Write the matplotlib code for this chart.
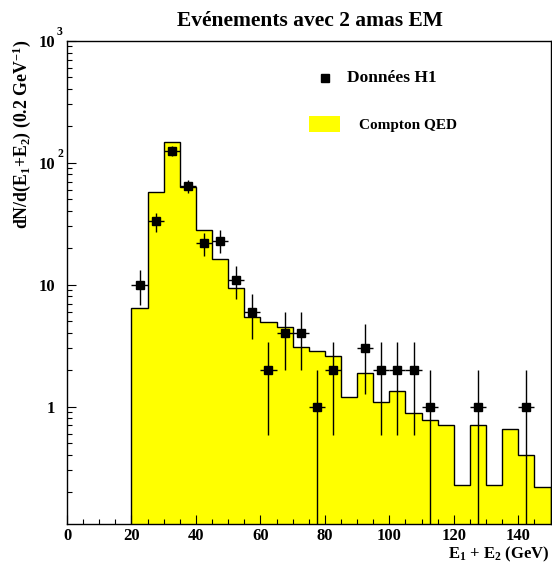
import numpy as np
import matplotlib
matplotlib.use("Agg")
import matplotlib.pyplot as plt
import matplotlib.transforms as mtransforms
from matplotlib.patches import Rectangle

# ---------------- data ----------------
bin_edges = np.arange(20, 151, 5)
mc_compton = [6.4, 57, 148, 63, 28, 16.2, 9.4, 5.4, 4.95, 4.5, 3.1, 2.85, 2.6,
              1.2, 1.9, 1.1, 1.33, 0.89, 0.77, 0.70, 0.226, 0.70, 0.226, 0.65,
              0.40, 0.22]
data_x = [22.5, 27.5, 32.5, 37.5, 42.5, 47.5, 52.5, 57.5, 62.5, 67.5, 72.5,
          77.5, 82.5, 92.5, 97.5, 102.5, 107.5, 112.5, 127.5, 142.5]
data_counts = [10, 33, 125, 64, 22, 23, 11, 6, 2, 4, 4, 1, 2, 3, 2, 2, 2, 1, 1, 1]
x_ticks = [0, 20, 40, 60, 80, 100, 120, 140]
y_ticks = [1, 10, 100, 1000]
y_tick_labels = ["1", "10", "10", "10"]
y_tick_exponents = ["", "", "2", "3"]

title = "Evénements avec 2 amas EM"
xlabel = r"E$_{1}$ + E$_{2}$ (GeV)"
ylabel = r"dN/d(E$_{1}$+E$_{2}$) (0.2 GeV$^{-1}$)"
leg_data = "Données H1"
leg_mc = "Compton QED"

# ---------------- style ----------------
plt.rcParams["font.family"] = ["Liberation Serif", "DejaVu Serif"]
plt.rcParams["font.weight"] = "bold"
plt.rcParams["mathtext.fontset"] = "custom"
plt.rcParams["mathtext.rm"] = "Liberation Serif:bold"
plt.rcParams["mathtext.it"] = "Liberation Serif:bold"
plt.rcParams["mathtext.bf"] = "Liberation Serif:bold"
plt.rcParams["mathtext.default"] = "rm"

W, H = 552, 566
fig = plt.figure(figsize=(W / 100, H / 100), dpi=100)
L, R, T, B = 67, 550.5, 40.7, 524
ax = fig.add_axes([L / W, (H - B) / H, (R - L) / W, (B - T) / H])

ymin, ymax = 0.109, 1000
ax.set_xlim(0, 150)
ax.set_yscale("log")
ax.set_ylim(ymin, ymax)

mc = np.array(mc_compton)
ax.stairs(mc, bin_edges, baseline=1e-3, fill=True, facecolor="#ffff00",
          edgecolor="none", zorder=1)
ax.stairs(mc, bin_edges, baseline=1e-3, fill=False, color="black",
          linewidth=1.0, zorder=2)

cnt = np.array(data_counts, dtype=float)
err = np.sqrt(cnt)
lo = np.clip(cnt - err, 1e-3, None)
ax.errorbar(data_x, cnt, yerr=[cnt - lo, err], xerr=2.5, fmt="s",
            color="black", markersize=6.3, elinewidth=1.0, capsize=0,
            zorder=3)

for s in ax.spines.values():
    s.set_linewidth(1.0)

ax.set_xticks(x_ticks)
ax.set_xticks(np.arange(0, 151, 5), minor=True)
ax.set_xticklabels([str(v) for v in x_ticks])
ax.set_yticks(y_ticks)
ax.set_yticklabels(y_tick_labels)
ax.yaxis.set_minor_locator(matplotlib.ticker.LogLocator(base=10, subs=np.arange(2, 10)))
ax.yaxis.set_minor_formatter(matplotlib.ticker.NullFormatter())
ax.tick_params(which="both", direction="in", top=False, right=False,
               width=0.8, labelsize=12)
ax.tick_params(which="major", length=6.5)
ax.tick_params(which="minor", length=3.4)
ax.tick_params(axis="y", which="major", pad=8.6)
ax.tick_params(axis="x", which="major", pad=3)
for lab in ax.get_xticklabels() + ax.get_yticklabels():
    lab.set_fontweight("bold")

# exponents on y tick labels
trans = mtransforms.blended_transform_factory(ax.transAxes, ax.transData)
trans = trans + mtransforms.ScaledTranslation(-10 / 100, 3 / 100, fig.dpi_scale_trans)
for v, e in zip(y_ticks, y_tick_exponents):
    if e:
        ax.text(0, v, e, transform=trans, ha="left", va="bottom", fontsize=8.5,
                fontweight="bold")

# title & labels
fig.text(310 / W, 1 - 26 / H, title, ha="center", va="baseline",
         fontsize=15.5, fontweight="bold")
fig.text(22 / W, 1 - 40 / H, ylabel, rotation=90, ha="center", va="top",
         fontsize=12.8, fontweight="bold")
fig.text(550 / W, 1 - 558 / H, xlabel, ha="right", va="baseline",
         fontsize=12, fontweight="bold")

# legend
def ax_frac(px, py):
    return (px - L) / (R - L), (B - py) / (B - T)

mx, my = ax_frac(325, 78)
ax.plot([mx], [my], "s", color="black", markersize=6, transform=ax.transAxes,
        clip_on=False)
tx, ty = ax_frac(346.7, 78)
ax.text(tx, ty, leg_data, transform=ax.transAxes, ha="left", va="center",
        fontsize=12.5, fontweight="bold")
rx0, ry0 = ax_frac(309, 132)
rx1, ry1 = ax_frac(340, 116)
ax.add_patch(Rectangle((rx0, ry0), rx1 - rx0, ry1 - ry0, transform=ax.transAxes,
                       facecolor="#ffff00", edgecolor="none"))
tx, ty = ax_frac(359, 125)
ax.text(tx, ty, leg_mc, transform=ax.transAxes, ha="left", va="center",
        fontsize=11, fontweight="bold")

fig.savefig("out.png", dpi=100)
